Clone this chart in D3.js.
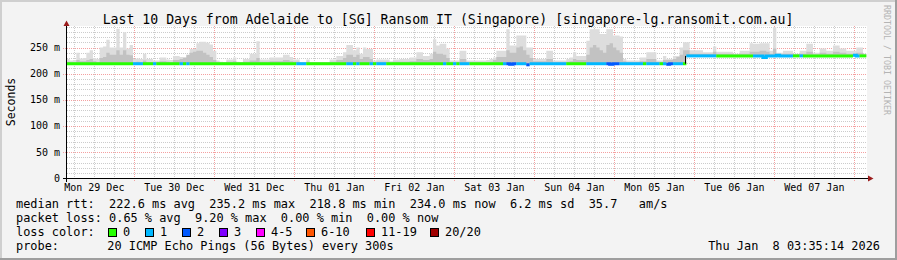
<!DOCTYPE html>
<html>
<head>
<meta charset="utf-8">
<script src="https://cdn.jsdelivr.net/npm/d3@7"></script>
<style>
  html, body { margin: 0; padding: 0; background: #f3f3f3; }
  svg { display: block; font-family: "DejaVu Sans Mono", monospace; }
  text { white-space: pre; }
</style>
</head>
<body>
<svg id="chart" width="897" height="260"></svg>
<script>
const START = Date.UTC(2025, 11, 29, 3, 35, 14);
const END = Date.UTC(2026, 0, 8, 3, 35, 14);
const HOUR = 3600 * 1000;

// hourly buckets from Mon 29 Dec 03:35, values in ms
const smokeMax = [
  228,225,226,240,229,230,240,245,230,228, 250,252,265,250,250,286,250,279,248,255,
  228,229,228,238,228,228,225,225,231,231, 227,226,234,234,232,232,233,247,247,258,
  261,261,259,256,244,225,223,222,227,227, 231,223,222,228,228,238,238,262,227,227,
  227,231,231,231,231,236,236,232,227,227, 222,222,227,222,222,222,222,222,222,227,
  227,234,234,241,255,255,245,250,238,250, 247,247,225,227,227,227,227,224,227,227,
  228,228,228,231,231,241,241,234,234,238, 266,254,257,257,248,225,225,225,244,244,
  225,225,225,225,225,225,226,228,231,244, 244,244,285,254,254,273,273,273,250,250,
  228,228,228,228,244,244,225,225,225,225, 228,231,241,234,234,234,263,285,285,285,
  276,276,285,285,273,273,271,228,225,225, 225,225,231,231,241,241,241,225,225,234,
  228,228,234,234,250,260,260,245,245,245, 245,241,241,241,252,242,242,242,242,242,
  238,238,244,244,244,258,257,257,258,258, 258,244,289,240,240,244,244,244,238,238,
  244,244,257,257,240,240,248,248,244,244, 254,254,248,248,244,244,244,250,250,238
];

const smokeMid = [
  223,222,222,226,224,224,226,228,224,222, 230,232,240,236,236,245,236,245,236,235,
  222,223,222,225,222,222,222,222,224,224, 223,222,226,226,228,230,236,240,242,244,
  244,240,236,232,226,222,222,222,223,223, 224,222,222,223,223,225,225,230,223,223,
  223,224,224,224,224,226,226,224,223,223, 222,222,223,222,222,222,222,222,222,223,
  223,226,226,230,236,236,232,236,228,232, 232,228,222,223,223,223,223,222,223,223,
  223,223,223,224,224,228,228,226,226,228, 242,238,238,236,230,222,222,222,228,228,
  222,222,222,222,222,222,222,223,226,232, 232,232,245,240,240,250,252,245,236,230,
  224,224,224,224,228,228,222,222,222,222, 223,224,228,226,226,226,236,250,255,250,
  245,240,255,258,250,245,240,224,222,222, 222,222,224,224,228,228,228,222,222,226,
  226,226,228,232,236,245,245,238,238,238, 238,238,238,238,242,238,238,238,238,238,
  237,237,238,238,238,242,242,242,244,244, 242,238,248,237,237,238,238,238,237,237,
  238,238,242,242,237,237,240,240,238,238, 242,242,240,240,238,238,238,240,240,237
];

const median = [
  219,219,219,219,219,219,219,219,219,219, 219,219,219,219,219,219,219,219,219,219,
  219,219,219,219,219,219,219,219,219,219, 219,219,219,219,219,219,219,219,219,219,
  219,219,219,219,219,219,219,219,219,219, 219,219,219,219,219,219,219,219,219,219,
  219,219,219,219,219,219,219,219,219,219, 219,219,219,219,219,219,219,219,219,219,
  219,219,219,219,219,219,219,219,219,219, 219,219,219,219,219,219,219,219,219,219,
  219,219,219,219,219,219,219,219,219,219, 219,219,219,219,219,219,219,219,219,219,
  219,219,219,219,219,219,219,219,219,219, 219,219,219,218,219,219,219,219,217,219,
  219,219,219,219,219,219,219,219,219,219, 219,219,219,219,219,219,219,219,219,219,
  219,219,219,218,219,219,219,219,219,219, 219,219,219,219,219,219,219,219,219,219,
  218,219,219,219,219,219,234,234,234,234, 234,234,234,234,234,234,234,234,234,234,
  234,234,234,234,234,234,234,234,234,231, 234,234,234,235,234,234,234,234,234,234,
  234,234,234,234,234,234,234,234,234,234, 234,234,234,234,234,234,235,234,234,234
];

// packets lost out of 20, per hour
const loss = [
  0,0,0,0,0,0,0,0,0,0, 0,0,0,0,0,0,0,0,0,0,
  1,1,1,0,0,0,1,0,0,0, 0,0,0,0,1,0,1,0,0,0,
  0,0,0,0,0,0,0,0,0,0, 0,0,0,0,0,0,0,0,0,0,
  0,0,0,0,0,0,0,0,0,1, 1,1,0,0,0,0,0,0,0,0,
  0,0,0,0,1,1,0,1,0,0, 0,1,0,1,1,1,0,0,0,0,
  0,0,0,0,0,0,0,0,0,0, 0,0,0,1,0,0,1,0,1,1,
  1,0,0,0,0,0,0,0,0,0, 0,1,2,2,2,1,1,1,2,1,
  1,1,1,1,1,1,1,1,1,1, 0,0,0,0,0,0,1,1,1,1,
  1,1,2,2,2,2,1,1,1,1, 1,1,1,0,1,1,1,1,0,1,
  2,2,1,1,1,0,1,1,1,1, 1,1,1,1,1,0,0,0,0,0,
  0,0,0,0,0,0,1,1,1,1, 1,1,1,1,1,1,1,1,0,0,
  1,0,0,0,0,0,0,0,0,0, 0,0,0,0,0,0,1,1,0,0
];

const lossLabels = ["0", "1", "2", "3", "4-5", "6-10", "11-19", "20/20"];
const lossColors = ["#26ff00", "#00b8ff", "#0059ff", "#7e00ff", "#ff00ff", "#ff5500", "#ff0000", "#a00000"];

const yTicks = [0, 50, 100, 150, 200, 250];
const yTickLabels = ["0", "50 m", "100 m", "150 m", "200 m", "250 m"];
const dayLabels = ["Mon 29 Dec", "Tue 30 Dec", "Wed 31 Dec", "Thu 01 Jan", "Fri 02 Jan",
                   "Sat 03 Jan", "Sun 04 Jan", "Mon 05 Jan", "Tue 06 Jan", "Wed 07 Jan"];

const titleText = "Last 10 Days from Adelaide to [SG] Ransom IT (Singapore) [singapore-lg.ransomit.com.au]";
const rttLine = "median rtt:  222.6 ms avg  235.2 ms max  218.8 ms min  234.0 ms now  6.2 ms sd  35.7   am/s";
const lossLine = "packet loss: 0.65 % avg  9.20 % max  0.00 % min  0.00 % now";
const probeText = "20 ICMP Echo Pings (56 Bytes) every 300s";
const stampText = "Thu Jan  8 03:35:14 2026";

const svg = d3.select("#chart");
const W = 897, H = 260;

// frame
svg.append("rect").attr("width", W).attr("height", H).attr("fill", "#f3f3f3");
svg.append("path").attr("d", `M0,0H${W}V2H2V${H}H0Z`).attr("fill", "#cfcfcf");
svg.append("path").attr("d", `M${W},${H}H0V${H - 2}H${W - 2}V0H${W}Z`).attr("fill", "#9e9e9e");

const x = d3.scaleUtc().domain([START, END]).range([66.3, 866.3]);
const y = d3.scaleLinear().domain([0, 290]).range([178.3, 26.6]);
const px = v => Math.round(v) + 0.5;

// canvas
svg.append("rect")
  .attr("x", 67).attr("y", 26).attr("width", 800).attr("height", 152)
  .attr("fill", "#ffffff");

// grid
const grid = svg.append("g");
const minorY = d3.range(10, 291, 10).filter(v => v % 50 !== 0);
grid.selectAll(".hmin").data(minorY).enter().append("line")
  .attr("x1", 67).attr("x2", 867)
  .attr("y1", d => px(y(d))).attr("y2", d => px(y(d)))
  .attr("stroke", "#cccccc").attr("stroke-dasharray", "1,1");

const minorX = d3.utcHour.every(6).range(new Date(START), new Date(END))
  .filter(d => d.getUTCHours() !== 0);
grid.selectAll(".vmin").data(minorX).enter().append("line")
  .attr("x1", d => px(x(d))).attr("x2", d => px(x(d)))
  .attr("y1", 26).attr("y2", 178)
  .attr("stroke", "#cccccc").attr("stroke-dasharray", "1,1");

grid.selectAll(".hmaj").data(yTicks.filter(d => d > 0)).enter().append("line")
  .attr("x1", 63).attr("x2", 867)
  .attr("y1", d => px(y(d))).attr("y2", d => px(y(d)))
  .attr("stroke", "#f4a0a0").attr("stroke-dasharray", "1,1");

const days = d3.utcDay.range(new Date(START), new Date(END));
grid.selectAll(".vmaj").data(days).enter().append("line")
  .attr("x1", d => px(x(d))).attr("x2", d => px(x(d)))
  .attr("y1", 26).attr("y2", 181)
  .attr("stroke", "#f4a0a0").attr("stroke-dasharray", "1,1");

// smoke
const pts = smokeMax.map((v, h) => ({ t: START + h * HOUR, max: v, mid: smokeMid[h], med: median[h] }));
pts.push({ ...pts[pts.length - 1], t: START + pts.length * HOUR });

const smokeArea = key => d3.area()
  .curve(d3.curveStepAfter)
  .x(d => x(d.t))
  .y0(d => y(d.med - 2))
  .y1(d => y(d[key]));

svg.append("path").datum(pts).attr("d", smokeArea("max")).attr("fill", "#dddddd");
svg.append("path").datum(pts).attr("d", smokeArea("mid")).attr("fill", "#c2c2c2");

// median line coloured by loss
const runs = [];
loss.forEach((l, h) => {
  const last = runs[runs.length - 1];
  if (last && last.loss === l) last.end = h;
  else runs.push({ loss: l, start: h, end: h });
});

const medLine = d3.line().curve(d3.curveStepAfter).x(d => x(d.t)).y(d => y(d.med));
runs.forEach(r => {
  const seg = pts.slice(r.start, r.end + 1).concat([{ ...pts[r.end], t: START + (r.end + 1) * HOUR }]);
  svg.append("path").datum(seg).attr("d", medLine)
    .attr("fill", "none").attr("stroke", lossColors[r.loss]).attr("stroke-width", 3);
});

// big jumps drawn as a thin black riser
const jumps = d3.range(1, median.length).filter(h => Math.abs(median[h] - median[h - 1]) > 4);
svg.selectAll(".jump").data(jumps).enter().append("line")
  .attr("x1", h => px(x(START + h * HOUR)) - 1).attr("x2", h => px(x(START + h * HOUR)) - 1)
  .attr("y1", h => y(median[h - 1])).attr("y2", h => y(median[h]))
  .attr("stroke", "#000").attr("stroke-width", 1);

// axes
svg.append("line").attr("x1", 63).attr("x2", 869).attr("y1", 178.5).attr("y2", 178.5).attr("stroke", "#000");
svg.append("line").attr("x1", 66.5).attr("x2", 66.5).attr("y1", 182).attr("y2", 24).attr("stroke", "#000");
svg.append("path").attr("d", "M868,175.5L873.5,178.5L868,181.5Z").attr("fill", "#9b1c1c");
svg.append("path").attr("d", "M63.5,26L66.5,20.5L69.5,26Z").attr("fill", "#9b1c1c");

svg.append("g").selectAll("text").data(yTicks).enter().append("text")
  .attr("x", 60).attr("y", d => y(d) + 3.5)
  .attr("text-anchor", "end").attr("font-size", 10).attr("fill", "#000")
  .text((d, i) => yTickLabels[i]);

svg.append("g").selectAll("text").data(dayLabels).enter().append("text")
  .attr("x", (d, i) => x(Date.UTC(2025, 11, 29 + i, 12)))
  .attr("y", 191)
  .attr("text-anchor", "middle").attr("font-size", 10).attr("fill", "#000")
  .text(d => d);

svg.append("text")
  .attr("transform", "translate(14.5,102) rotate(-90)")
  .attr("text-anchor", "middle").attr("font-size", 11.5).attr("fill", "#000")
  .text("Seconds");

svg.append("text")
  .attr("x", 448).attr("y", 23.5)
  .attr("text-anchor", "middle").attr("font-size", 13.2).attr("fill", "#000")
  .text(titleText);

svg.append("text")
  .attr("transform", "translate(883.5,5) rotate(90)")
  .attr("font-size", 8.3).attr("fill", "#b4b4b4")
  .text("RRDTOOL / TOBI OETIKER");

// legend
const legend = svg.append("g").attr("font-size", 11.9).attr("fill", "#000");
legend.append("text").attr("x", 16).attr("y", 208).text(rttLine);
legend.append("text").attr("x", 16).attr("y", 222).text(lossLine);
legend.append("text").attr("x", 16).attr("y", 236).text("loss color:");
legend.append("text").attr("x", 16).attr("y", 250).text("probe:");
legend.append("text").attr("x", 107.3).attr("y", 250).text(probeText);
legend.append("text").attr("x", 880).attr("y", 250).attr("text-anchor", "end").text(stampText);

const swatchX = [108.5, 145.5, 182.5, 219.5, 256.5, 306.5, 366.5, 430.5];
const sw = legend.selectAll(".sw").data(lossLabels).enter().append("g");
sw.append("rect")
  .attr("x", (d, i) => swatchX[i]).attr("y", 228.5)
  .attr("width", 8).attr("height", 8)
  .attr("fill", (d, i) => lossColors[i]).attr("stroke", "#000");
sw.append("text")
  .attr("x", (d, i) => swatchX[i] + 14.5).attr("y", 236)
  .text(d => d);
</script>
</body>
</html>
